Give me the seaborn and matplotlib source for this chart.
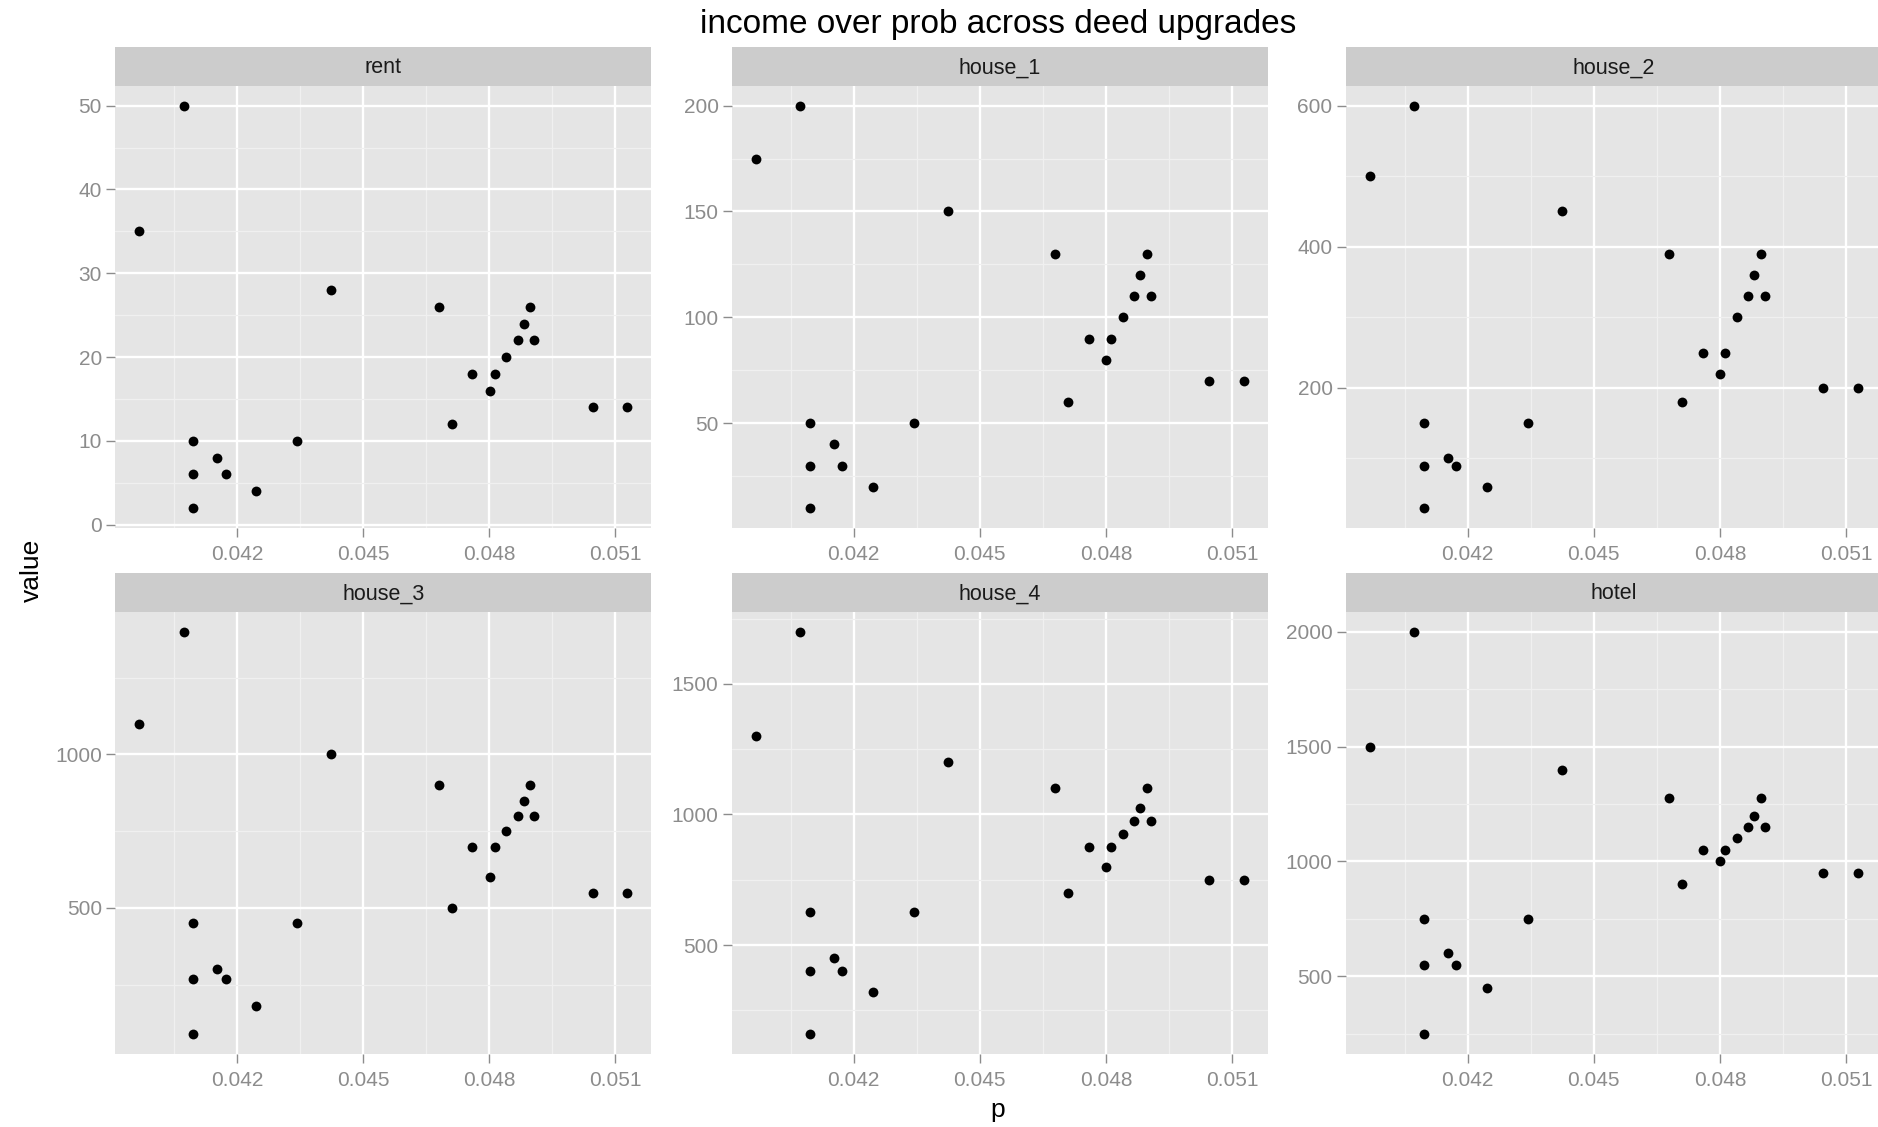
import numpy as np
import pandas as pd
import matplotlib
matplotlib.use("Agg")
import matplotlib.pyplot as plt
import seaborn as sns
from matplotlib.patches import Rectangle
from matplotlib.ticker import FixedLocator

# landing probability of each street property
p = [0.04096, 0.04245, 0.04096, 0.04173, 0.04153, 0.04096, 0.04343, 0.04711,
     0.05046, 0.05128, 0.04801, 0.04760, 0.04813, 0.04841, 0.04868, 0.04907,
     0.04882, 0.04897, 0.04680, 0.04424, 0.03968, 0.04073]

# income per deed level
rent    = [2, 4, 6, 6, 8, 10, 10, 12, 14, 14, 16, 18, 18, 20, 22, 22, 24, 26, 26, 28, 35, 50]
house_1 = [10, 20, 30, 30, 40, 50, 50, 60, 70, 70, 80, 90, 90, 100, 110, 110, 120, 130, 130, 150, 175, 200]
house_2 = [30, 60, 90, 90, 100, 150, 150, 180, 200, 200, 220, 250, 250, 300, 330, 330, 360, 390, 390, 450, 500, 600]
house_3 = [90, 180, 270, 270, 300, 450, 450, 500, 550, 550, 600, 700, 700, 750, 800, 800, 850, 900, 900, 1000, 1100, 1400]
house_4 = [160, 320, 400, 400, 450, 625, 625, 700, 750, 750, 800, 875, 875, 925, 975, 975, 1025, 1100, 1100, 1200, 1300, 1700]
hotel   = [250, 450, 550, 550, 600, 750, 750, 900, 950, 950, 1000, 1050, 1050, 1100, 1150, 1150, 1200, 1275, 1275, 1400, 1500, 2000]

levels = ["rent", "house_1", "house_2", "house_3", "house_4", "hotel"]
series = [rent, house_1, house_2, house_3, house_4, hotel]

x_ticks = [0.042, 0.045, 0.048, 0.051]
x_tick_labels = ["0.042", "0.045", "0.048", "0.051"]
y_ticks = {
    "rent": [0, 10, 20, 30, 40, 50],
    "house_1": [50, 100, 150, 200],
    "house_2": [200, 400, 600],
    "house_3": [500, 1000],
    "house_4": [500, 1000, 1500],
    "hotel": [500, 1000, 1500, 2000],
}

df = pd.concat(
    [pd.DataFrame({"p": p, "variable": lvl, "value": vals}) for lvl, vals in zip(levels, series)],
    ignore_index=True,
)

W, H, DPI = 1878, 1127, 100
FONT = ["Liberation Sans", "DejaVu Sans"]

sns.set_style("white")
plt.rcParams["font.family"] = FONT

g = sns.relplot(
    data=df, x="p", y="value", col="variable", col_order=levels, col_wrap=3,
    kind="scatter", color="black", s=50, linewidth=0,
    facet_kws=dict(sharex=False, sharey=False),
    height=4, aspect=1,
)
fig = g.figure
fig.set_size_inches(W / DPI, H / DPI)
fig.set_dpi(DPI)
g.set_titles("")
g.set_axis_labels("", "")


def expand(vals, frac=0.05):
    lo, hi = min(vals), max(vals)
    d = (hi - lo) * frac
    return lo - d, hi + d


def minor_breaks(major, lim):
    step = major[1] - major[0]
    cand = [major[0] - step / 2] + [m + step / 2 for m in major]
    return [c for c in cand if lim[0] <= c <= lim[1]]


xlim = expand(p)
panel_w = 536.5 / W
col_left = [115 / W, 731.7 / W, 1345.7 / W]
row_bottom = [(H - 528) / H, (H - 1054) / H]
panel_h = 442.5 / H
strip_px = 39

for i, (ax, lvl, vals) in enumerate(zip(g.axes.flat, levels, series)):
    r, c = divmod(i, 3)
    ax.set_position([col_left[c], row_bottom[r], panel_w, panel_h])
    ax.set_facecolor("#E5E5E5")
    for s in ax.spines.values():
        s.set_visible(False)

    ylim = expand(vals)
    ax.set_xlim(*xlim)
    ax.set_ylim(*ylim)

    ax.xaxis.set_major_locator(FixedLocator(x_ticks))
    ax.set_xticklabels(x_tick_labels)
    ax.xaxis.set_minor_locator(FixedLocator(minor_breaks(x_ticks, xlim)))
    yt = y_ticks[lvl]
    ax.yaxis.set_major_locator(FixedLocator(yt))
    ax.set_yticklabels([str(v) for v in yt])
    ax.yaxis.set_minor_locator(FixedLocator(minor_breaks(yt, ylim)))

    ax.grid(which="major", color="white", linewidth=1.7)
    ax.grid(which="minor", color="#F0F0F0", linewidth=0.9)
    ax.set_axisbelow(True)
    ax.tick_params(axis="both", which="major", length=6.5, width=1.0,
                   color="#8C8C8C", labelcolor="#8C8C8C", labelsize=15, pad=3,
                   bottom=True, left=True, labelbottom=True, labelleft=True)
    ax.tick_params(axis="x", which="major", pad=6)
    ax.tick_params(axis="both", which="minor", length=0)
    for lab in ax.get_xticklabels() + ax.get_yticklabels():
        lab.set_visible(True)

    # facet strip above the panel
    sh = strip_px / (panel_h * H)
    ax.add_patch(Rectangle((0, 1), 1, sh, transform=ax.transAxes,
                           facecolor="#CCCCCC", edgecolor="none", clip_on=False))
    ax.text(0.5, 1 + sh / 2 - 0.004, lvl, transform=ax.transAxes, ha="center", va="center",
            fontsize=15.5, color="#1A1A1A", family=FONT)

fig.text(998 / W, 1 - 25 / H, "income over prob across deed upgrades",
         ha="center", va="center", fontsize=24, color="black", family=FONT)
fig.text(998 / W, 1 - 1110 / H, "p", ha="center", va="center",
         fontsize=19, color="black", family=FONT)
fig.text(32 / W, 1 - 570 / H, "value", ha="center", va="center", rotation=90,
         fontsize=19, color="black", family=FONT)

fig.savefig("out.png", dpi=DPI)
